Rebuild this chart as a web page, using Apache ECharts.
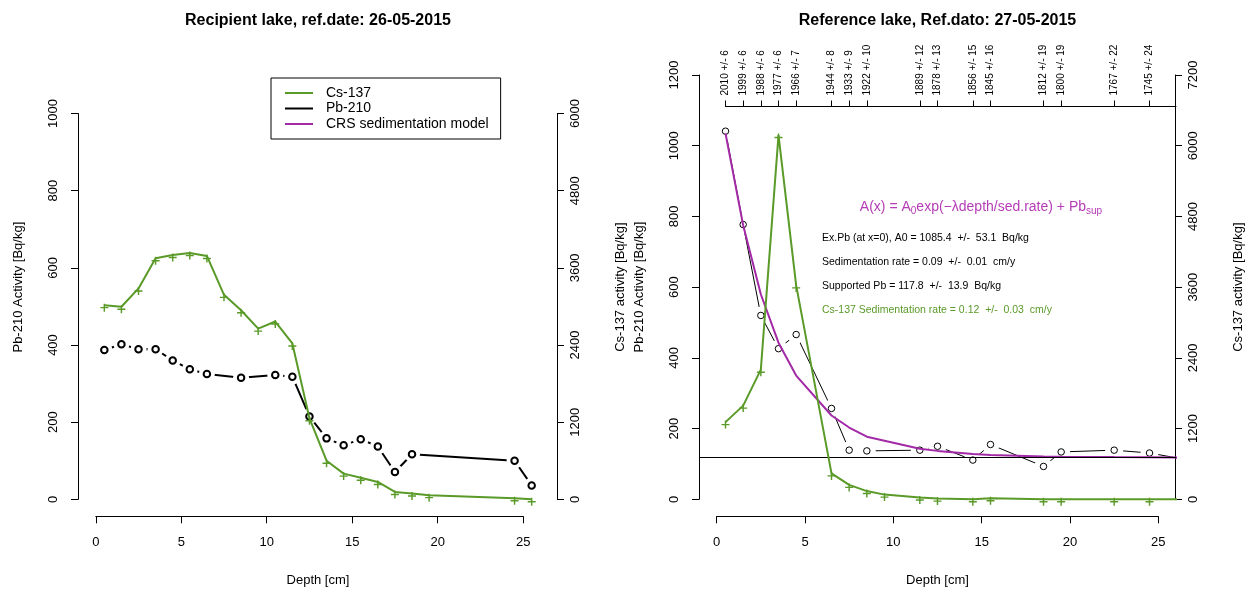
<!DOCTYPE html>
<html><head><meta charset="utf-8">
<script src="https://cdn.jsdelivr.net/npm/echarts@6/dist/echarts.min.js"></script>
<style>html,body{margin:0;padding:0;background:#fff}#c{width:1250px;height:592px}</style>
</head><body><div id="c"></div>
<script>
// ---------------- DATA ----------------
// Left panel: Recipient lake
const leftCsDepth = [0.5,1.5,2.5,3.5,4.5,5.5,6.5,7.5,8.5,9.5,10.5,11.5,12.5,13.5,14.5,15.5,16.5,17.5,18.5,19.5,24.5,25.5];
const leftCs      = [3020,2995,3280,3750,3800,3830,3785,3180,2940,2655,2765,2425,1260,600,400,335,270,115,90,65,18,0];
const leftPbDepth = [0.5,1.5,2.5,3.5,4.5,5.5,6.5,8.5,10.5,11.5,12.5,13.5,14.5,15.5,16.5,17.5,18.5,24.5,25.5];
const leftPb      = [387,402,389,389,360,337,325,315,322,318,215,158,140,156,137,71,117,100,36];
// Right panel: Reference lake
const rightPbDepth = [0.5,1.5,2.5,3.5,4.5,6.5,7.5,8.5,11.5,12.5,14.5,15.5,18.5,19.5,22.5,24.5,26.5];
const rightPb      = [1041,777,520,426,466,257,139,137,139,150,111,155,93,134,139,131,113];
const rightModel   = [1035,775,580,443,350,237,203,177,143,137,128,125,121,120.5,119.5,119,118.5];
const rightCsDepth = [0.5,1.5,2.5,3.5,4.5,6.5,7.5,8.5,9.5,11.5,12.5,14.5,15.5,18.5,19.5,22.5,24.5,26.5];
const rightCs      = [1310,1590,2200,6180,3630,440,245,140,80,30,12,0,18,0,0,0,0,0];
const supportedPb  = 117.8;
const dateDepths = [0.5,1.5,2.5,3.5,4.5,6.5,7.5,8.5,11.5,12.5,14.5,15.5,18.5,19.5,22.5,24.5];
const dateLabels = ["2010 +/- 6","1999 +/- 6","1988 +/- 6","1977 +/- 6","1966 +/- 7","1944 +/- 8","1933 +/- 9","1922 +/- 10","1889 +/- 12","1878 +/- 13","1856 +/- 15","1845 +/- 16","1812 +/- 19","1800 +/- 19","1767 +/- 22","1745 +/- 24"];
const xTickMax = 25, xTickStep = 5;
const leftPbTickMax = 1000, leftCsTickMax = 6000;
const rightPbTickMax = 1200, rightCsTickMax = 7200;
const titles = ["Recipient lake, ref.date: 26-05-2015", "Reference lake, Ref.dato: 27-05-2015"];
const legendNames = ["Cs-137", "Pb-210", "CRS sedimentation model"];
const annot = [
  "Ex.Pb (at x=0), A0 = 1085.4  +/-  53.1  Bq/kg",
  "Sedimentation rate = 0.09  +/-  0.01  cm/y",
  "Supported Pb = 117.8  +/-  13.9  Bq/kg",
  "Cs-137 Sedimentation rate = 0.12  +/-  0.03  cm/y"
];

// ---------------- LAYOUT ----------------
const FONT = "'Liberation Sans', Arial, Helvetica, sans-serif";
const GREEN = '#5a9a28', PURPLE = '#a22aa6', PURPLE_T = '#b53cb5';
const TICK = 13;
const panels = [
  {left:78, right:558, top:58, bottom:516.3, xmin:-1.04, xmax:27.04, ymin:-44, ymax:1144, cs:6, pbMax:leftPbTickMax, csMax:leftCsTickMax, pbStep:200, csStep:1200},
  {left:699, right:1176, top:58, bottom:516.3, xmin:-1, xmax:26, ymin:-48, ymax:1248, cs:6, pbMax:rightPbTickMax, csMax:rightCsTickMax, pbStep:200, csStep:1200}
];
function px(p,x){return p.left + (x-p.xmin)/(p.xmax-p.xmin)*(p.right-p.left);}
function py(p,y){return p.bottom - (y-p.ymin)/(p.ymax-p.ymin)*(p.bottom-p.top);}

const grid=[], xAxis=[], yAxis=[], series=[], graphic=[];
function addGrid(g){grid.push(g); return grid.length-1;}
const hiddenX = gi => ({gridIndex:gi, type:'value', show:false, min:0, max:1});
const hiddenY = gi => ({gridIndex:gi, type:'value', show:false, min:0, max:1});
const axLine = {show:true, lineStyle:{color:'#000', width:1}};
const axTick = {show:true, inside:false, length:7, lineStyle:{color:'#000', width:1}};
const plain = v => String(v);

const dataIdx = [];
panels.forEach((p, k) => {
  const gi = addGrid({left:p.left, top:p.top, width:p.right-p.left, height:p.bottom-p.top});
  xAxis.push({gridIndex:gi, type:'value', min:p.xmin, max:p.xmax, show:false});
  const xi = xAxis.length-1;
  yAxis.push({gridIndex:gi, type:'value', min:p.ymin, max:p.ymax, show:false});
  const yPb = yAxis.length-1;
  yAxis.push({gridIndex:gi, type:'value', min:p.ymin*p.cs, max:p.ymax*p.cs, show:false});
  const yCs = yAxis.length-1;
  dataIdx.push({xi, yPb, yCs});

  const gb = addGrid({left:px(p,0), top:p.bottom-1, width:px(p,xTickMax)-px(p,0), height:1});
  xAxis.push({gridIndex:gb, type:'value', min:0, max:xTickMax, interval:xTickStep, position:'bottom',
    axisLine:axLine, axisTick:axTick, splitLine:{show:false},
    axisLabel:{margin:20, fontSize:TICK, color:'#000', fontFamily:FONT, formatter:plain}});
  yAxis.push(hiddenY(gb));

  const gl = addGrid({left:p.left, top:py(p,p.pbMax), width:1, height:py(p,0)-py(p,p.pbMax)});
  xAxis.push(hiddenX(gl));
  yAxis.push({gridIndex:gl, type:'value', min:0, max:p.pbMax, interval:p.pbStep, position:'left',
    axisLine:axLine, axisTick:axTick, splitLine:{show:false},
    axisLabel:{rotate:90, margin:18, fontSize:TICK, color:'#000', fontFamily:FONT, formatter:plain}});

  const gr = addGrid({left:p.right-1, top:py(p,p.csMax/p.cs), width:1, height:py(p,0)-py(p,p.csMax/p.cs)});
  xAxis.push(hiddenX(gr));
  yAxis.push({gridIndex:gr, type:'value', min:0, max:p.csMax, interval:p.csStep, position:'right',
    axisLine:axLine, axisTick:axTick, splitLine:{show:false},
    axisLabel:{rotate:90, margin:11, fontSize:TICK, color:'#000', fontFamily:FONT, formatter:plain}});

  const cx = (p.left+p.right)/2;
  graphic.push({type:'text', x:cx, y:21, style:{text:titles[k], align:'center', verticalAlign:'middle', textAlign:'center', textVerticalAlign:'middle', fontSize:16, fontWeight:'bold', fontFamily:FONT, fill:'#000'}});
  graphic.push({type:'text', x:cx, y:580, style:{text:'Depth [cm]', align:'center', verticalAlign:'middle', textAlign:'center', textVerticalAlign:'middle', fontSize:TICK, fontFamily:FONT, fill:'#000'}});
  const cy = (p.top+p.bottom)/2;
  graphic.push({type:'text', x:p.left-60, y:cy, rotation:Math.PI/2, style:{text:'Pb-210 Activity [Bq/kg]', align:'center', verticalAlign:'middle', textAlign:'center', textVerticalAlign:'middle', fontSize:TICK, fontFamily:FONT, fill:'#000'}});
  graphic.push({type:'text', x:p.right+62, y:cy, rotation:Math.PI/2, style:{text:'Cs-137 activity [Bq/kg]', align:'center', verticalAlign:'middle', textAlign:'center', textVerticalAlign:'middle', fontSize:TICK, fontFamily:FONT, fill:'#000'}});
});

{
  const p = panels[1];
  const topY = 105.5;
  const gt = addGrid({left:px(p,dateDepths[0]), top:topY, width:p.right-px(p,dateDepths[0]), height:1});
  xAxis.push({gridIndex:gt, type:'value', min:dateDepths[0], max:p.xmax, position:'top',
    axisLine:axLine, splitLine:{show:false},
    axisTick:{show:true, inside:false, length:6, customValues:dateDepths, lineStyle:{color:'#000', width:1}},
    axisLabel:{show:true, rotate:90, margin:10, fontSize:10, color:'#000', fontFamily:FONT,
      customValues:dateDepths, formatter:(v)=>{const i=dateDepths.indexOf(v); return i>=0?dateLabels[i]:'';}}});
  yAxis.push(hiddenY(gt));
}

const plusSym = 'path://M0,4.1 L10,4.1 L10,5.9 L0,5.9 Z M4.1,0 L5.9,0 L5.9,10 L4.1,10 Z';
const zip = (a,b)=>a.map((v,i)=>[v,b[i]]);

{
  const d = dataIdx[0];
  series.push({name:'Pb-210', type:'line', xAxisIndex:d.xi, yAxisIndex:d.yPb, data:zip(leftPbDepth,leftPb), color:'#000',
    showSymbol:false, lineStyle:{color:'#000', width:2}, z:1, silent:true});
  series.push({type:'scatter', xAxisIndex:d.xi, yAxisIndex:d.yPb, data:zip(leftPbDepth,leftPb), symbol:'circle', symbolSize:16,
    itemStyle:{color:'#fff', opacity:1}, z:2, silent:true});
  series.push({type:'scatter', xAxisIndex:d.xi, yAxisIndex:d.yPb, data:zip(leftPbDepth,leftPb), symbol:'circle', symbolSize:6.5,
    itemStyle:{color:'#fff', borderColor:'#000', borderWidth:2, opacity:1}, z:3, silent:true});
  series.push({name:'Cs-137', type:'line', xAxisIndex:d.xi, yAxisIndex:d.yCs, data:zip(leftCsDepth,leftCs), color:GREEN,
    showSymbol:true, symbol:plusSym, symbolSize:8, symbolOffset:[0,2.5], itemStyle:{color:GREEN, borderWidth:0},
    lineStyle:{color:GREEN, width:2}, z:5, silent:true});
}

{
  const d = dataIdx[1];
  series.push({type:'line', xAxisIndex:d.xi, yAxisIndex:d.yPb, data:zip(rightPbDepth,rightPb),
    showSymbol:false, lineStyle:{color:'#000', width:1}, z:1, silent:true});
  series.push({type:'scatter', xAxisIndex:d.xi, yAxisIndex:d.yPb, data:zip(rightPbDepth,rightPb), symbol:'circle', symbolSize:18,
    itemStyle:{color:'#fff', opacity:1}, z:2, silent:true});
  series.push({type:'scatter', xAxisIndex:d.xi, yAxisIndex:d.yPb, data:zip(rightPbDepth,rightPb), symbol:'circle', symbolSize:6.5,
    itemStyle:{color:'#fff', borderColor:'#000', borderWidth:1, opacity:1}, z:3, silent:true});
  series.push({name:'CRS sedimentation model', type:'line', xAxisIndex:d.xi, yAxisIndex:d.yPb, data:zip(rightPbDepth,rightModel), color:PURPLE,
    showSymbol:false, lineStyle:{color:PURPLE, width:2}, z:4, silent:true,
    markLine:{silent:true, symbol:'none', label:{show:false}, lineStyle:{color:'#000', width:1, type:'solid'}, data:[{yAxis:supportedPb}]}});
  series.push({name:'Cs-137', type:'line', xAxisIndex:d.xi, yAxisIndex:d.yCs, data:zip(rightCsDepth,rightCs), color:GREEN,
    showSymbol:true, symbol:plusSym, symbolSize:8, symbolOffset:[0,2.5], itemStyle:{color:GREEN, borderWidth:0},
    lineStyle:{color:GREEN, width:2}, z:5, silent:true});
}

graphic.push({type:'text', x:981, y:207, style:{
  text:'{n|A(x) = A}{s|0}{n|exp(\u2212\u03bbdepth/sed.rate) + Pb}{s|sup}',
  align:'center', verticalAlign:'middle', textAlign:'center', textVerticalAlign:'middle', fill:PURPLE_T,
  rich:{n:{fontSize:14, fontFamily:FONT, fill:PURPLE_T, color:PURPLE_T}, s:{fontSize:10, fontFamily:FONT, fill:PURPLE_T, color:PURPLE_T, verticalAlign:'bottom', padding:[8,0,0,0]}}}});
const annY = [238, 262, 286, 310];
annot.forEach((t,i)=>{
  graphic.push({type:'text', x:822, y:annY[i], style:{text:t, align:'left', verticalAlign:'middle', textAlign:'left', textVerticalAlign:'middle',
    fontSize:10.5, fontFamily:FONT, fill: i===3?GREEN:'#000'}});
});

const option = {
  animation:false,
  backgroundColor:'#fff',
  grid, xAxis, yAxis, series, graphic,
  legend:{left:271, top:78, orient:'vertical', selectedMode:false, data:legendNames,
    borderColor:'#000', borderWidth:1, padding:[8,12,8,14], itemGap:1.5, itemWidth:28, itemHeight:2, icon:'rect',
    textStyle:{fontSize:14, fontFamily:FONT, color:'#000', padding:[0,0,0,8]}}
};
const chart = echarts.init(document.getElementById('c'), null, {renderer:'canvas', width:1250, height:592});
chart.setOption(option);
</script></body></html>
